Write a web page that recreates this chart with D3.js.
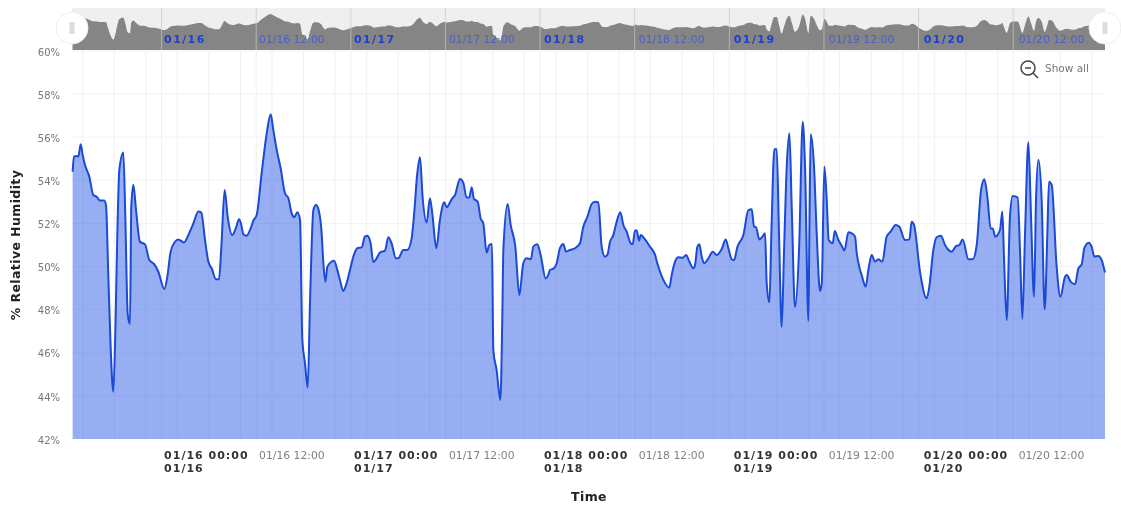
<!DOCTYPE html>
<html>
<head>
<meta charset="utf-8">
<title>Relative Humidity</title>
<script src="https://cdn.jsdelivr.net/npm/d3@7"></script>
<style>
    html, body { margin: 0; padding: 0; background: #fff; }
    svg { display: block; filter: blur(0.35px); }
    text { font-family: "DejaVu Sans", sans-serif; }
    .yLabel text { font-size: 10px; fill: #777; }
    .xLabel text { font-size: 10.8px; fill: #808080; }
    .xLabel text.day { font-size: 11px; font-weight: bold; fill: #333; letter-spacing: 1px; }
    .navLabel text { font-size: 10.8px; fill: #4a5fc8; }
    .navLabel text.day { font-size: 11px; font-weight: bold; fill: #1f3fd0; letter-spacing: 1.4px; }
    .axisTitle { font-size: 12.5px; font-weight: bold; fill: #222; letter-spacing: 0.4px; }
</style>
</head>
<body>
<div id="chart"></div>
<script>

// hours after 01/16 00:00
const hours = [
    -11.28,-11.11,-10.77,-10.56,-10.26,-10.01,-9.71,-9.16,-8.66,-8.23,-7.81,-7.30,-7.05,-6.75,-6.46,-6.12,-5.87,-5.61,-5.36,-4.85,
    -4.60,-4.30,-4.01,-3.84,-3.58,-3.24,-2.74,-2.10,-1.55,-0.96,-0.41,0.35,0.73,1.15,1.70,2.12,2.84,3.39,4.03,4.66,
    5.04,5.51,5.93,6.35,6.90,7.28,7.58,8.00,8.38,8.97,9.40,9.82,10.07,10.37,10.79,11.30,11.64,12.06,12.69,13.33,
    13.84,14.17,14.60,15.10,15.65,16.08,16.50,16.84,17.22,17.56,17.85,18.19,18.53,18.83,19.25,19.59,19.92,20.30,20.52,20.77,
    21.02,21.57,21.87,22.29,22.62,23.04,23.46,23.89,24.39,24.82,25.37,25.79,26.09,26.51,26.85,27.27,27.69,28.33,28.75,29.17,
    29.72,30.02,30.65,31.16,31.71,32.00,32.43,32.77,33.10,33.61,34.03,34.33,34.84,35.30,35.85,36.15,36.78,37.21,37.84,38.26,
    38.68,39.02,39.32,39.61,40.08,40.46,40.80,41.22,41.56,41.90,42.07,42.49,42.96,43.21,43.34,43.89,44.27,44.86,45.37,45.87,
    46.29,46.84,47.14,47.65,48.07,48.71,49.04,49.25,49.76,50.10,50.52,50.95,51.28,51.79,52.43,53.06,53.48,53.99,54.54,54.96,
    55.39,55.81,56.23,56.53,56.87,57.29,57.71,58.18,58.56,58.98,59.49,59.74,60.04,60.25,60.55,60.76,61.31,61.94,62.58,62.87,
    63.63,64.39,64.69,65.11,65.54,66.09,66.51,66.93,67.44,67.65,67.95,68.20,68.50,68.79,69.34,69.89,70.40,71.03,71.54,71.88,
    72.30,72.60,73.02,73.78,74.41,74.84,75.13,75.39,75.81,76.19,76.53,76.74,77.08,77.33,77.71,78.01,78.30,78.64,78.94,79.28,
    79.62,79.91,80.33,80.84,81.31,81.60,82.03,82.15,82.32,82.74,83.08,83.50,83.72,84.05,84.35,84.60,85.11,85.37,85.83,86.25,
    86.59,87.10,87.52,87.94,88.16,88.58,88.78,89.29,89.63,90.05,90.47,90.89,91.40,91.95,92.46,93.09,93.56,94.28,94.83,95.12,
    95.42,96.18,97.02,97.36,97.87,98.29,98.84,99.35,100.20,100.75,101.17,101.59,102.31,102.86,103.37,103.92,104.34,104.72,105.14,105.40,
    105.73,106.33,106.62,106.83,107.17,107.59,107.93,108.57,108.86,109.16,109.50,109.92,110.26,110.64,110.89,111.19,111.61,111.99,112.33,112.54,
    112.88,113.51,113.98,114.57,114.78,115.29,115.84,116.26,116.68,117.02,117.57,117.95,118.29,118.79,119.22,119.64
];

// % relative humidity
const humidity = [
    54.40,55.10,55.13,55.10,55.67,55.18,54.71,54.17,53.32,53.24,53.06,53.06,52.86,49.53,46.28,44.19,46.90,51.54,54.48,55.29,
    52.32,47.83,47.33,52.78,53.79,52.62,51.15,51.03,50.30,50.12,49.76,48.96,49.53,50.69,51.15,51.26,51.12,51.46,52.00,52.55,
    52.50,51.23,50.23,49.92,49.41,49.41,50.92,53.55,52.32,51.46,51.77,52.19,52.00,51.50,51.43,51.77,52.13,52.39,54.33,56.18,
    57.06,56.34,55.41,54.56,53.40,53.17,52.47,52.29,52.52,52.16,46.59,45.51,44.39,48.45,52.62,52.86,52.62,51.54,50.15,49.30,
    49.99,50.23,50.27,49.84,49.38,48.87,49.22,49.84,50.54,50.85,50.89,51.39,51.43,51.08,50.20,50.38,50.65,50.74,51.36,51.08,
    50.38,50.38,50.77,50.77,51.31,52.32,54.33,55.07,53.24,52.04,53.17,52.47,50.85,52.16,52.98,52.75,53.12,53.32,54.06,53.89,
    53.20,53.20,53.68,53.14,53.01,52.24,52.00,50.65,51.00,51.05,46.13,45.20,43.81,47.67,50.77,52.90,51.93,50.92,48.68,50.15,
    50.38,50.34,50.92,51.03,50.54,49.45,49.61,49.84,49.92,50.15,50.85,51.05,50.69,50.77,50.85,51.08,51.85,52.29,52.90,53.01,
    52.98,50.92,50.46,50.54,51.15,51.46,52.08,52.52,51.93,51.62,51.08,51.03,51.67,51.67,51.20,51.46,51.26,50.92,50.54,50.15,
    49.38,49.02,49.61,50.23,50.43,50.41,50.54,50.23,49.92,50.07,50.92,51.03,50.46,50.15,50.38,50.69,50.54,50.81,51.26,50.85,
    50.34,50.30,50.92,51.46,52.62,52.66,51.85,51.82,51.26,51.39,51.54,49.22,48.34,51.54,55.44,55.44,51.54,47.21,50.77,54.64,
    56.18,52.78,48.11,50.77,56.72,54.64,47.47,51.54,56.14,54.64,51.54,48.87,49.22,54.64,53.09,51.23,51.08,51.65,51.23,50.97,
    50.74,51.59,51.54,51.39,50.61,49.84,49.61,49.07,49.84,50.54,50.23,50.34,50.23,51.39,51.62,51.93,51.85,51.23,51.26,52.08,
    51.93,49.76,48.53,49.07,50.77,51.36,51.43,51.00,50.69,50.95,51.00,51.26,50.34,50.34,51.00,53.55,54.05,53.24,51.77,51.77,
    51.39,51.70,52.55,50.46,47.52,52.32,53.27,53.20,50.77,47.57,51.54,55.77,52.32,48.60,53.09,54.95,53.09,48.02,51.54,53.94,
    53.79,49.99,48.60,49.53,49.61,49.30,49.18,49.92,50.10,50.85,51.11,50.92,50.46,50.49,50.30,49.72
];

const yTicks = [42, 44, 46, 48, 50, 52, 54, 56, 58, 60];

// labelled ticks, 12 hours apart
const labelHours = [0, 12, 24, 36, 48, 60, 72, 84, 96, 108];
const labelText = ["01/16 00:00", "01/16 12:00", "01/17 00:00", "01/17 12:00", "01/18 00:00",
    "01/18 12:00", "01/19 00:00", "01/19 12:00", "01/20 00:00", "01/20 12:00"];
const dayText = ["01/16", "", "01/17", "", "01/18", "", "01/19", "", "01/20", ""];
const navText = ["01/16", "01/16 12:00", "01/17", "01/17 12:00", "01/18",
    "01/18 12:00", "01/19", "01/19 12:00", "01/20", "01/20 12:00"];

// faint grid every 4 hours, starting 02:00
const gridHours = [-10, -6, -2, 2, 6, 10, 14, 18, 22, 26, 30, 34, 38, 42, 46, 50, 54, 58, 62, 66, 70, 74, 78, 82, 86, 90, 94, 98, 102, 106, 110, 114, 118];

const series = hours.map((h, i) => ({hour: h, value: humidity[i]}));

const width = 1121, height = 506;
const plot = {left: 72, right: 1105, top: 51, bottom: 439};
const nav = {top: 8, bottom: 50};

const svg = d3.select("#chart").append("svg")
    .attr("width", width)
    .attr("height", height);

const x = d3.scaleLinear()
    .domain([-11.36, 119.64])
    .range([plot.left, plot.right]);

const y = d3.scaleLinear()
    .domain([42, 60])
    .range([plot.bottom, plot.top]);

const yNav = d3.scaleLinear()
    .domain([39, 60])
    .range([nav.bottom, nav.top]);

// labels drift a little right of their tick in the original
const labelShift = i => 2 + i * 0.33;

// grid
svg.append("g").selectAll("line")
    .data(yTicks.slice(1))
    .enter().append("line")
    .attr("x1", plot.left)
    .attr("x2", plot.right)
    .attr("y1", d => y(d))
    .attr("y2", d => y(d))
    .attr("stroke", "#f3f3f3");

svg.append("g").selectAll("line")
    .data(gridHours.concat(labelHours))
    .enter().append("line")
    .attr("x1", d => x(d))
    .attr("x2", d => x(d))
    .attr("y1", plot.top)
    .attr("y2", plot.bottom)
    .attr("stroke", "#f0f0f0");

// main area + line
const area = d3.area()
    .curve(d3.curveMonotoneX)
    .x(d => x(d.hour))
    .y0(plot.bottom)
    .y1(d => y(d.value));

const line = d3.line()
    .curve(d3.curveMonotoneX)
    .x(d => x(d.hour))
    .y(d => y(d.value));

svg.append("path")
    .datum(series)
    .attr("d", area)
    .attr("fill", "#2f5ee8")
    .attr("fill-opacity", 0.5);

svg.append("path")
    .datum(series)
    .attr("d", line)
    .attr("fill", "none")
    .attr("stroke", "#1b4ad6")
    .attr("stroke-width", 2)
    .attr("stroke-linejoin", "round");

// y axis
const yAxis = d3.axisLeft(y)
    .tickValues(yTicks)
    .tickSize(0)
    .tickPadding(12)
    .tickFormat(d => d + "%");

svg.append("g")
    .attr("class", "yLabel")
    .attr("transform", `translate(${plot.left},1)`)
    .call(yAxis)
    .call(g => g.select(".domain").remove());

// x axis, labels sit to the right of their tick
const xAxis = d3.axisBottom(x)
    .tickValues(labelHours)
    .tickSize(0)
    .tickPadding(0)
    .tickFormat((d, i) => labelText[i]);

const xLabels = svg.append("g")
    .attr("class", "xLabel")
    .attr("transform", `translate(0,${plot.bottom})`)
    .call(xAxis)
    .call(g => g.select(".domain").remove());

xLabels.selectAll(".tick text")
    .attr("text-anchor", "start")
    .attr("x", (d, i) => labelShift(i))
    .attr("y", 19.5)
    .attr("dy", 0)
    .classed("day", (d, i) => dayText[i] !== "");

xLabels.selectAll(".tick")
    .filter((d, i) => dayText[i] !== "")
    .append("text")
    .attr("class", "day")
    .attr("x", d => labelShift(labelHours.indexOf(d)))
    .attr("y", 33)
    .attr("fill", "#333")
    .attr("text-anchor", "start")
    .text(d => dayText[labelHours.indexOf(d)]);

// axis titles
svg.append("text")
    .attr("class", "axisTitle")
    .attr("x", 589)
    .attr("y", 501)
    .attr("text-anchor", "middle")
    .text("Time");

svg.append("text")
    .attr("class", "axisTitle")
    .attr("transform", "translate(20,245) rotate(-90)")
    .attr("text-anchor", "middle")
    .text("% Relative Humidity");

// navigator on top
svg.append("rect")
    .attr("x", plot.left)
    .attr("y", nav.top)
    .attr("width", plot.right - plot.left)
    .attr("height", nav.bottom - nav.top)
    .attr("fill", "#efefef");

const navArea = d3.area()
    .curve(d3.curveMonotoneX)
    .x(d => x(d.hour))
    .y0(nav.bottom)
    .y1(d => yNav(d.value));

svg.append("path")
    .datum(series)
    .attr("d", navArea)
    .attr("fill", "#858585");

svg.append("g").selectAll("line")
    .data(labelHours)
    .enter().append("line")
    .attr("x1", d => x(d))
    .attr("x2", d => x(d))
    .attr("y1", nav.top)
    .attr("y2", nav.bottom)
    .attr("stroke", "#c8c8c8")
    .attr("stroke-opacity", 0.7);

const navAxis = d3.axisBottom(x)
    .tickValues(labelHours)
    .tickSize(0)
    .tickPadding(0)
    .tickFormat((d, i) => navText[i]);

svg.append("g")
    .attr("class", "navLabel")
    .attr("transform", `translate(0,${nav.bottom})`)
    .call(navAxis)
    .call(g => g.select(".domain").remove())
    .selectAll(".tick text")
    .attr("text-anchor", "start")
    .attr("x", (d, i) => labelShift(i))
    .attr("y", -7)
    .attr("dy", 0)
    .classed("day", (d, i) => dayText[i] !== "");

// navigator handles
const handles = svg.append("g").selectAll("g")
    .data([plot.left, plot.right])
    .enter().append("g")
    .attr("transform", d => `translate(${d},28)`);

handles.append("circle")
    .attr("r", 16)
    .attr("fill", "#fff")
    .attr("stroke", "#eeeeee");

handles.append("rect")
    .attr("x", -2.5)
    .attr("y", -6)
    .attr("width", 5)
    .attr("height", 12)
    .attr("fill", "#dcdcdc");

// show all button
const zoomOut = svg.append("g")
    .attr("transform", "translate(1028,68)")
    .attr("fill", "none")
    .attr("stroke", "#444");

zoomOut.append("circle")
    .attr("r", 7)
    .attr("stroke-width", 1.5);

zoomOut.append("line")
    .attr("x1", -3).attr("x2", 3)
    .attr("stroke-width", 1.5);

zoomOut.append("line")
    .attr("x1", 5).attr("y1", 5)
    .attr("x2", 10).attr("y2", 10)
    .attr("stroke-width", 1.5);

svg.append("text")
    .attr("x", 1045)
    .attr("y", 72)
    .attr("font-size", 10.5)
    .attr("fill", "#777")
    .text("Show all");

</script>
</body>
</html>
